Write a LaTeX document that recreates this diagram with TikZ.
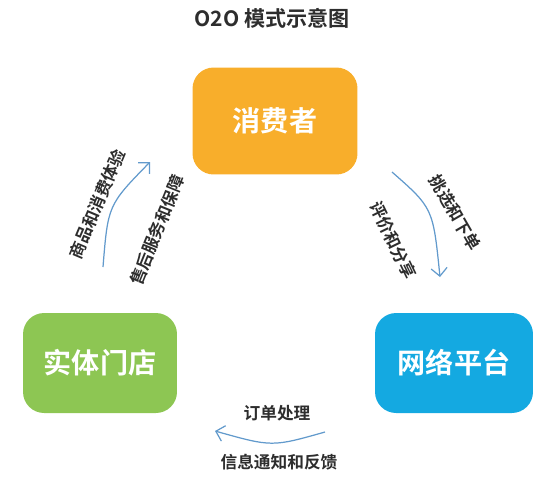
\documentclass[tikz,border=0pt]{standalone}
\usepackage{fontspec}
\setmainfont{Noto Sans CJK SC}
\newfontfamily\cjkbold{Noto Sans CJK SC Bold}
\usetikzlibrary{arrows.meta}
\definecolor{corLaranja}{RGB}{248, 174,  43}
\definecolor{corVerde}{RGB}{141, 198,  83}
\definecolor{corAzul}{RGB}{ 20, 169, 225}
\definecolor{corSeta}{RGB}{ 98, 154, 204}
\definecolor{corTexto}{RGB}{ 45,  45,  45}

\tikzset{
  caixa/.style={rounded corners=12pt, inner sep=0pt,
                font=\cjkbold\fontsize{16}{18}\selectfont, text=white},
  rotulo/.style={font=\cjkbold\fontsize{9.5}{11}\selectfont, text=corTexto, inner sep=1pt},
  seta/.style={corSeta, line width=0.7pt, -{Straight Barb[length=1.6mm, width=3.2mm]}}
}

\begin{document}
\begin{tikzpicture}[x=0.02cm, y=-0.02cm]

  %% moldura fixa do tamanho da figura
  \useasboundingbox (0,0) rectangle (554,498);

  %% titulo
  \node[font=\cjkbold\fontsize{12}{14}\selectfont, text=corTexto] (titulo) at (272,18) {O2O 模式示意图};

  %% ================================================================
  %%  CAIXAS
  %% ================================================================
  \node[caixa, fill=corLaranja, minimum width=3.3cm, minimum height=2.14cm]
        (consumidor) at (275,121) {消费者};
  \node[caixa, fill=corVerde, minimum width=3.08cm, minimum height=2.0cm]
        (loja) at (100,363) {实体门店};
  \node[caixa, fill=corAzul, minimum width=3.16cm, minimum height=2.0cm]
        (plataforma) at (454,363) {网络平台};

  %% ================================================================
  %%  SETAS
  %% ================================================================
  % esquerda: loja -> consumidor
  \coordinate (esqA) at (103,267);
  \coordinate (esqB) at (150,162);
  \draw[seta] (esqA) .. controls (108,205) .. (esqB);
  \node[rotulo, rotate=67] (exper) at (97,204) {商品和消费体验};
  \node[rotulo, rotate=68] (posv) at (157,230) {售后服务和保障};

  % direita: consumidor -> plataforma
  \coordinate (dirA) at (392,172);
  \coordinate (dirB) at (440,277);
  \draw[seta] (dirA) .. controls (433,208) .. (dirB);
  \node[rotulo, rotate=-60] (escolha) at (455,213) {挑选和下单};
  \node[rotulo, rotate=-64] (avalia) at (393,240) {评价和分享};

  % baixo: plataforma -> loja
  \coordinate (baiA) at (325,432);
  \coordinate (baiB) at (215,431);
  \draw[seta] (baiA) .. controls (272,447) .. (baiB);
  \node[rotulo] (pedido) at (277,413) {订单处理};
  \node[rotulo] (aviso) at (279,462) {信息通知和反馈};

\end{tikzpicture}
\end{document}
